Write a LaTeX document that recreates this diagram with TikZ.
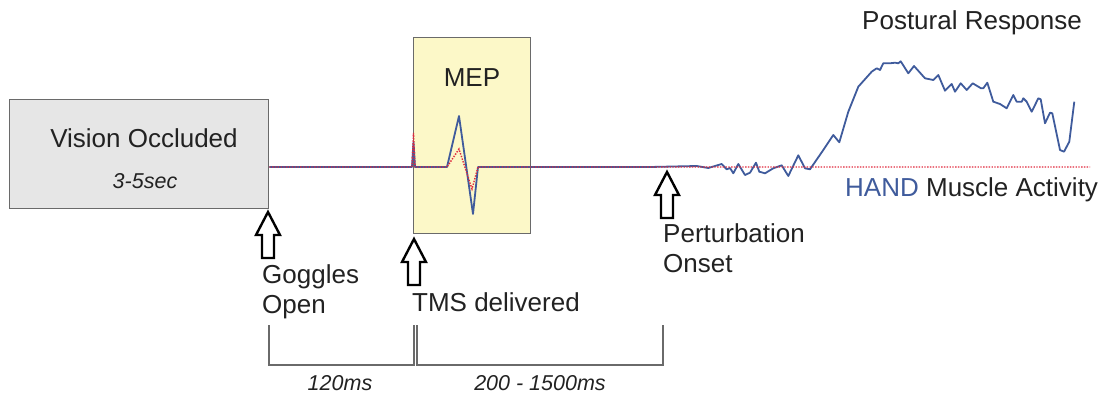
\documentclass[tikz,border=0pt]{standalone}
\usepackage{fontspec}
\setmainfont{Liberation Sans}
\definecolor{txt}{HTML}{222222}
\definecolor{trace}{HTML}{3F5B9C}
\definecolor{reddot}{HTML}{E0283C}
\definecolor{greybox}{HTML}{E6E6E6}
\definecolor{mepfill}{HTML}{FCF8C8}
\definecolor{edge}{HTML}{6A6A6A}
\begin{document}
\begin{tikzpicture}[x=1pt,y=-1pt,
  lbl/.style={font=\fontsize{26}{30}\selectfont, text=txt, inner sep=0pt},
  ital/.style={font=\fontsize{21.5}{25}\selectfont\itshape, text=txt, inner sep=0pt},
  panel/.style={draw=edge, line width=1.3pt, inner sep=0pt},
  bluetrace/.style={draw=trace, line width=1.8pt, line join=round},
  redtrace/.style={draw=reddot, line width=1.4pt, dash pattern=on 1.4pt off 1.4pt},
  bracket/.style={draw=edge, line width=1.4pt},
  arrowbox/.style={draw=black, fill=white, line width=2.4pt, line join=miter},
  uparr/.pic={\path[arrowbox] (0,0) -- (-12,23) -- (-6,23) -- (-6,46) -- (6,46) -- (6,23) -- (12,23) -- cycle;}
]
\useasboundingbox (0,0) rectangle (1111,398);

% boxes
\node[panel, fill=greybox, minimum width=259pt, minimum height=109pt, anchor=north west] (vision) at (9,99) {};
\node[lbl, anchor=center] (vtitle) at (144,138) {Vision Occluded};
\node[ital, anchor=center] (vdur) at (145,181) {3-5sec};

\node[panel, fill=mepfill, minimum width=117pt, minimum height=196pt, anchor=north west] (mep) at (413,37) {};
\node[lbl, anchor=center] (meptitle) at (472,78) {MEP};

% baseline traces
\coordinate (b0) at (vision.east |- 0,167);
\draw[bluetrace] (b0) -- (412,167) -- (413.5,142) -- (415,167) -- (447,167)
  -- (459,116) -- (473,214) -- (478,167) -- (650,167)
  -- (696.7,166) -- (708.3,168) -- (721.7,164) -- (726.7,169.3) -- (730,168) -- (733.3,173.3)
  -- (738.3,164) -- (745,175) -- (750,172.7) -- (756,162.7) -- (759.3,171.7) -- (765,173.3)
  -- (773.3,168.3) -- (781.7,165.3) -- (788.3,176) -- (798.3,155.3) -- (805,168.3) -- (810,169.3)
  -- (823.3,150) -- (833.3,135) -- (839.3,142.3) -- (848.3,111.7) -- (858.3,86.7) -- (871.7,71.7)
  -- (876.7,68.3) -- (880,70) -- (883.3,63.3) -- (890,63.3) -- (895,62.7) -- (898.3,63.3)
  -- (900.7,61.3) -- (908.3,73.3) -- (914,66) -- (925,78.3) -- (933.3,80) -- (938.3,75)
  -- (945,90.7) -- (951.7,84) -- (955,91.7) -- (960.7,83.3) -- (966.7,90) -- (972.7,83.3)
  -- (981,88.3) -- (983.3,88.3) -- (987.3,82.7) -- (993.3,101.7) -- (1000,104) -- (1006.7,108.3)
  -- (1013.3,95) -- (1016.7,101.7) -- (1021.7,101.7) -- (1023.3,98.3) -- (1026.7,101.7)
  -- (1031.7,111.7) -- (1038.3,98.3) -- (1040.7,99.3) -- (1045,123.3) -- (1050,112.7)
  -- (1052.3,113.3) -- (1060,150) -- (1064,151.7) -- (1069.3,141.7) -- (1074.3,101.7);
\coordinate (rend) at (1090,167);
\draw[redtrace] (b0) -- (412,167) -- (413.5,133) -- (415,167) -- (447,167)
  -- (459,149) -- (472,189) -- (478,167) -- (rend);

% labels
\node[lbl, anchor=base west] (postural) at (862,30) {Postural Response};
\node[lbl, anchor=base west] (hand) at (845,197) {\textcolor{trace}{HAND} Muscle Activity};

% arrows
\pic (goggarr) at (268,212) {uparr};
\pic (tmsarr) at (414,239) {uparr};
\pic (pertarr) at (667,172) {uparr};

\node[lbl, anchor=base west] (gog1) at (262,283) {Goggles};
\node[lbl, anchor=base west] (gog2) at (262,313) {Open};
\node[lbl, anchor=base west] (tms) at (412,311) {TMS delivered};
\node[lbl, anchor=base west] (pert1) at (663,243) {Perturbation};
\node[lbl, anchor=base west] (pert2) at (663,272) {Onset};

% brackets
\coordinate (k1t) at (269,325); \coordinate (k1b) at (269,365);
\coordinate (k2t) at (414,325); \coordinate (k2b) at (414,365);
\coordinate (k3t) at (417,325); \coordinate (k3b) at (417,365);
\coordinate (k4t) at (663,325); \coordinate (k4b) at (663,365);
\draw[bracket] (k1t) -- (k1b) -- (k2b) -- (k2t);
\draw[bracket] (k3t) -- (k3b) -- (k4b) -- (k4t);
\node[ital, anchor=center] (d1) at (340,383) {120ms};
\node[ital, anchor=center] (d2) at (540,383) {200 - 1500ms};
\end{tikzpicture}
\end{document}
